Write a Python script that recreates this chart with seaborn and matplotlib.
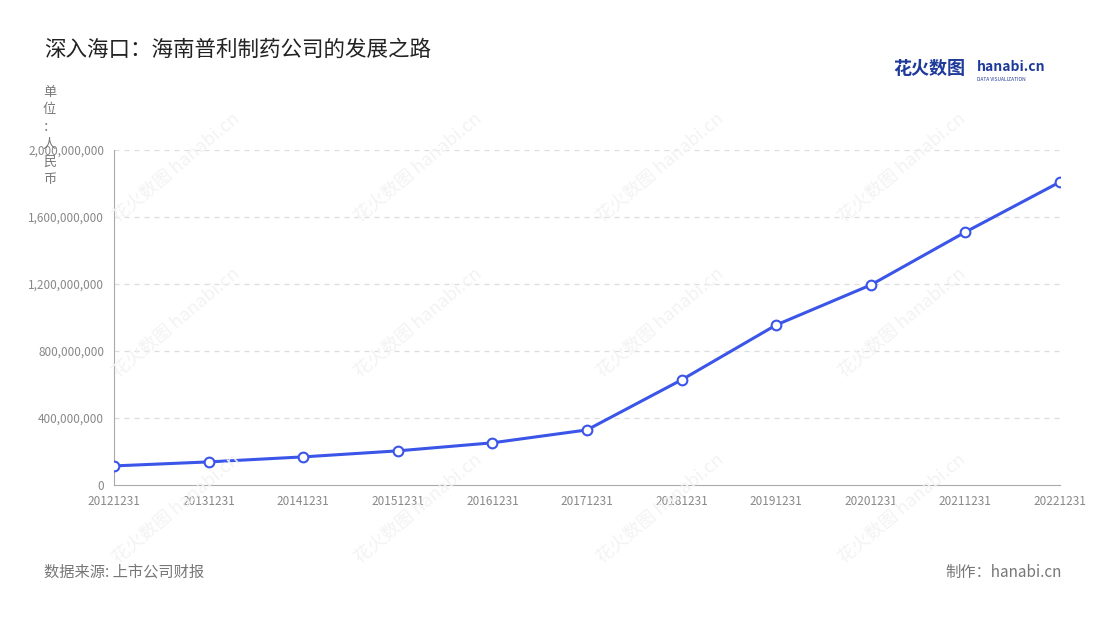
import matplotlib
matplotlib.use("Agg")
import matplotlib.pyplot as plt
import seaborn as sns
import pandas as pd

years = ["20121231", "20131231", "20141231", "20151231", "20161231", "20171231",
         "20181231", "20191231", "20201231", "20211231", "20221231"]
revenue = [113e6, 137e6, 167e6, 203e6, 251e6, 328e6, 627e6, 955e6, 1194e6, 1510e6, 1809e6]
yticks = [0, 400e6, 800e6, 1200e6, 1600e6, 2000e6]

sns.set_style("white")
plt.rcParams['font.family'] = ['Noto Sans CJK SC', 'DejaVu Sans']

df = pd.DataFrame({"date": years, "revenue": revenue})
df["x"] = range(len(df))

fig = plt.figure(figsize=(11, 6.2), dpi=100)
ax = fig.add_axes([0.1036, 0.218, 0.86, 0.54])
ax.patch.set_alpha(0)

sns.lineplot(data=df, x="x", y="revenue", ax=ax, color="#3a55e8", linewidth=2.2,
             marker="o", markersize=7, markerfacecolor="white",
             markeredgecolor="#3a55e8", markeredgewidth=1.5, zorder=3)

ax.set_xlim(0, len(years) - 1)
ax.set_ylim(0, 2000e6)
ax.set_xticks(df["x"])
ax.set_xticklabels(years, fontsize=8.5, color="#888888")
ax.set_yticks(yticks)
ax.set_yticklabels([f"{int(v):,}" for v in yticks], fontsize=8.5, color="#888888")
ax.set_xlabel("")
ax.set_ylabel("")
for y in yticks[1:]:
    ax.axhline(y, color="#dddddd", linestyle=(0, (4, 4)), linewidth=0.9, zorder=1)
for s in ["top", "right"]:
    ax.spines[s].set_visible(False)
ax.spines["left"].set_color("#aaaaaa")
ax.spines["bottom"].set_color("#aaaaaa")
ax.tick_params(axis="both", length=4, color="#aaaaaa", pad=3)

# watermarks
for wx in [0.16, 0.38, 0.6, 0.82]:
    for wy in [0.73, 0.48, 0.18]:
        fig.text(wx, wy, "花火数图 hanabi.cn", rotation=40, fontsize=13,
                 color="#f3f3f3", ha="center", va="center", zorder=0)

fig.text(0.04, 0.91, "深入海口：海南普利制药公司的发展之路", fontsize=15.5, color="#222222")
fig.text(0.812, 0.88, "花火数图", fontsize=13, color="#1e3a9a", fontweight="bold")
fig.text(0.888, 0.885, "hanabi.cn", fontsize=10, color="#1e3a9a", fontweight="bold")
fig.text(0.888, 0.87, "DATA VISUALIZATION", fontsize=3.5, color="#1e3a9a")
fig.text(0.045, 0.862, "单\n位\n：\n人\n民\n币", fontsize=9.5, color="#777777",
         ha="center", va="top", linespacing=1.45)
fig.text(0.04, 0.07, "数据来源: 上市公司财报", fontsize=11, color="#777777")
fig.text(0.965, 0.07, "制作：hanabi.cn", fontsize=11, color="#777777", ha="right")

fig.savefig("out.png", dpi=100)
